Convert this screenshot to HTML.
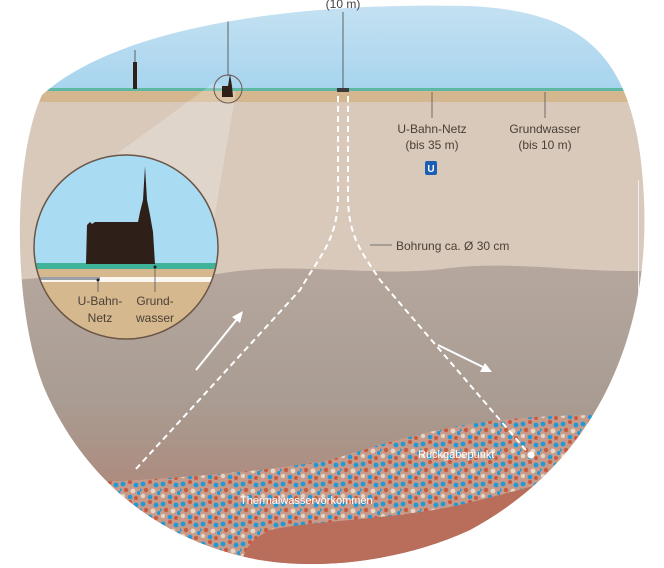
<!DOCTYPE html>
<html><head><meta charset="utf-8"><style>
html,body{margin:0;padding:0;background:#fff;width:664px;height:568px;overflow:hidden}
text{font-family:"Liberation Sans",sans-serif}
</style></head><body>
<svg width="664" height="568" viewBox="0 0 664 568" xmlns="http://www.w3.org/2000/svg">
<defs>
<clipPath id="shape"><path d="M42,95 C120,25 300,2 470,6 C590,12 638,60 644,200 C650,330 600,460 470,530 C400,562 320,570 260,560 C150,540 80,470 45,390 C12,310 12,160 42,95 Z"/></clipPath>
<linearGradient id="sky" x1="0" y1="0" x2="0" y2="1"><stop offset="0" stop-color="#c6e2f2"/><stop offset="1" stop-color="#a7d4ee"/></linearGradient>
<linearGradient id="deep" x1="0" y1="0" x2="0" y2="1"><stop offset="0" stop-color="#b5a79d"/><stop offset="0.45" stop-color="#a99c92"/><stop offset="0.75" stop-color="#ad8a7c"/><stop offset="1" stop-color="#b4624f"/></linearGradient>
<pattern id="spk" width="20" height="20" patternUnits="userSpaceOnUse">
<rect width="20" height="20" fill="#c79a8a"/>
<circle cx="3" cy="4" r="2.4" fill="#1f9ad8"/><circle cx="10" cy="2" r="2" fill="#c85a40"/>
<circle cx="16" cy="5" r="2.4" fill="#1f9ad8"/><circle cx="6" cy="10" r="2.2" fill="#c85a40"/>
<circle cx="13" cy="11" r="2.4" fill="#e2d6c8"/><circle cx="19" cy="13" r="2" fill="#1f9ad8"/>
<circle cx="3" cy="16" r="2.2" fill="#e2d6c8"/><circle cx="10" cy="17" r="2.3" fill="#1f9ad8"/>
<circle cx="16" cy="18" r="2" fill="#c85a40"/><circle cx="0" cy="10" r="1.6" fill="#1f9ad8"/>
</pattern>
</defs>
<g clip-path="url(#shape)">
<rect x="0" y="0" width="664" height="90" fill="url(#sky)"/>
<rect x="0" y="88" width="664" height="3" fill="#5fb8a4"/>
<rect x="0" y="91" width="664" height="11" fill="#d4b78f"/>
<rect x="0" y="102" width="664" height="180" fill="#d8c9bb"/>
<path d="M0,282 C80,270 150,285 230,272 C300,262 380,278 450,268 C520,260 590,275 664,270 L664,568 L0,568 Z" fill="url(#deep)"/>
<path d="M100,482 C180,478 260,472 330,460 C380,445 430,428 500,420 C540,416 570,415 620,415 L640,450 C600,470 520,490 460,505 C390,520 320,520 270,530 C250,540 245,548 240,568 L90,568 Z" fill="url(#spk)"/>
<path d="M240,568 C245,548 250,540 270,530 C320,520 390,520 460,505 C520,490 600,470 640,450 L664,568 Z" fill="#b96e5c"/>
<path d="M215,82 L40,210 L200,300 L236,92 Z" fill="#ffffff" opacity="0.22"/>
<rect x="133" y="62" width="4" height="27" fill="#2e2018"/>
<line x1="135" y1="50" x2="135" y2="62" stroke="#444" stroke-width="0.8"/>
<line x1="228" y1="20" x2="228" y2="76" stroke="#444" stroke-width="0.8"/>
<circle cx="228" cy="89" r="14" fill="none" stroke="#6a5a50" stroke-width="1"/>
<path d="M222,97 L222,86 L228,86 L230,74 L232,86 L233,97 Z" fill="#2e2018"/>
<line x1="343" y1="12" x2="343" y2="88" stroke="#444" stroke-width="0.8"/>
<rect x="337" y="88" width="12" height="4" fill="#3a3a3a"/>
<line x1="432" y1="92" x2="432" y2="118" stroke="#555" stroke-width="0.8"/>
<line x1="545" y1="92" x2="545" y2="118" stroke="#555" stroke-width="0.8"/>
<path d="M338,96 L338,195 C338,240 320,255 300,290 L135,470" fill="none" stroke="#fff" stroke-width="2" stroke-dasharray="6,4"/>
<path d="M348,96 L348,195 C348,235 360,250 380,280 L530,455" fill="none" stroke="#fff" stroke-width="2" stroke-dasharray="6,4"/>
<circle cx="531" cy="455" r="3.5" fill="#fff"/>
<line x1="370" y1="245" x2="392" y2="245" stroke="#555" stroke-width="0.8"/>
<line x1="196" y1="370" x2="238" y2="318" stroke="#fff" stroke-width="2"/>
<path d="M243,311 L232,317 L240,323 Z" fill="#fff"/>
<line x1="438" y1="345" x2="485" y2="368" stroke="#fff" stroke-width="2"/>
<path d="M492,372 L480,372 L485,363 Z" fill="#fff"/>
<rect x="638" y="180" width="1" height="120" fill="#eee"/>
</g>
<text x="343" y="8" font-size="12" fill="#444" text-anchor="middle">(10 m)</text>
<text x="432" y="133" font-size="12" fill="#4a4036" text-anchor="middle">U-Bahn-Netz</text>
<text x="432" y="149" font-size="12" fill="#4a4036" text-anchor="middle">(bis 35 m)</text>
<text x="545" y="133" font-size="12" fill="#4a4036" text-anchor="middle">Grundwasser</text>
<text x="545" y="149" font-size="12" fill="#4a4036" text-anchor="middle">(bis 10 m)</text>
<rect x="425" y="161" width="12" height="14" rx="2" fill="#1a5fb4"/>
<text x="431" y="172" font-size="10" font-weight="bold" fill="#fff" text-anchor="middle">U</text>
<text x="396" y="250" font-size="12" fill="#4a4036">Bohrung ca. Ø 30 cm</text>
<text x="418" y="458" font-size="11" fill="#fff">Rückgabepunkt</text>
<text x="240" y="504" font-size="11" fill="#fff">Thermalwasservorkommen</text>
<clipPath id="mc"><circle cx="126" cy="247" r="92"/></clipPath>
<g clip-path="url(#mc)">
<rect x="30" y="150" width="200" height="114" fill="#a9dbf3"/>
<rect x="30" y="263" width="200" height="6" fill="#3fb39a"/>
<rect x="30" y="269" width="200" height="80" fill="#d6b88f"/>
<rect x="30" y="277" width="200" height="5" fill="#fbf7f0"/>
<rect x="30" y="277" width="70" height="3" fill="#9aa0a8"/>
<path d="M86,264 L87,225 L90,222 L92,224 L95,222 L138,222 L140,212 L143,200 L145,166 L147,200 L150,215 L153,232 L155,264 Z" fill="#2e2018"/>
<line x1="98" y1="281" x2="98" y2="292" stroke="#555" stroke-width="0.8"/>
<circle cx="98" cy="280" r="1.5" fill="#222"/>
<line x1="155" y1="267" x2="155" y2="292" stroke="#555" stroke-width="0.8"/>
<circle cx="155" cy="267" r="1.5" fill="#222"/>
<text x="100" y="305" font-size="12" fill="#4a4036" text-anchor="middle">U-Bahn-</text>
<text x="100" y="322" font-size="12" fill="#4a4036" text-anchor="middle">Netz</text>
<text x="155" y="305" font-size="12" fill="#4a4036" text-anchor="middle">Grund-</text>
<text x="155" y="322" font-size="12" fill="#4a4036" text-anchor="middle">wasser</text>
</g>
<circle cx="126" cy="247" r="92" fill="none" stroke="#6a5546" stroke-width="1.5"/>
</svg>
</body></html>
